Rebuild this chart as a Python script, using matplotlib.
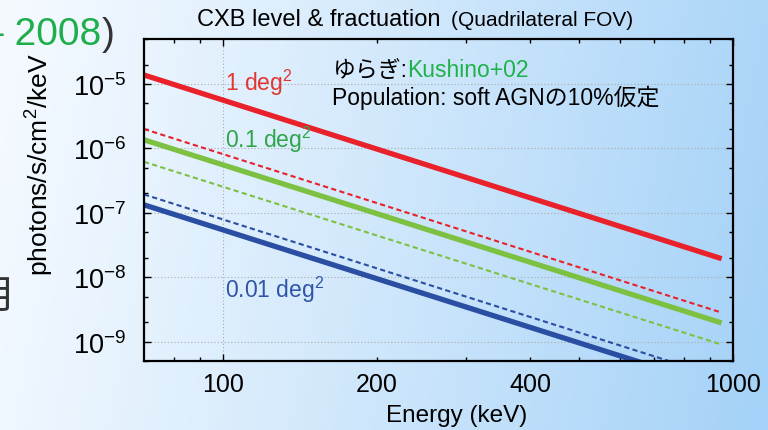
import matplotlib
matplotlib.use("Agg")
import matplotlib.pyplot as plt
from matplotlib.ticker import FixedLocator, FuncFormatter, LogLocator, NullFormatter
import numpy as np

plt.rcParams['font.family'] = ['Liberation Sans', 'Noto Sans CJK JP', 'DejaVu Sans']
plt.rcParams['mathtext.fontset'] = 'custom'
plt.rcParams['mathtext.rm'] = 'Liberation Sans'
plt.rcParams['mathtext.it'] = 'Liberation Sans:italic'

# energy range of the curves (keV)
energy = [70, 950]

# CXB level per FOV size (photons/s/cm2/keV)
level_1 = [1.38e-5, 1.94e-8]
level_01 = [1.36e-6, 1.95e-9]
level_001 = [1.33e-7, 1.90e-10]

# fluctuation (Kushino+02, soft AGN 10%)
fluct_1 = [2.0e-6, 2.82e-9]
fluct_01 = [6.2e-7, 9.0e-10]
fluct_001 = [1.93e-7, 2.75e-10]

area_labels = ["1 deg$\\mathregular{^2}$", "0.1 deg$\\mathregular{^2}$", "0.01 deg$\\mathregular{^2}$"]
x_major = [100, 1000]
x_minor = [80, 90, 200, 300, 400, 500, 600, 700, 800, 900]
x_minor_labels = [200, 400]

red, green, blue = "#e8212a", "#7cc142", "#2a4ea2"
text_red, text_green, text_blue = "#e2362f", "#2fa64a", "#2f55a6"

fig = plt.figure(figsize=(7.68, 4.31), dpi=100)

# slide background: white to light blue
bg = fig.add_axes([0, 0, 1, 1], zorder=-10)
gx, gy = np.meshgrid(np.linspace(0, 1, 400), np.linspace(0, 1, 200))
t = np.clip(0.9 * gx + 0.1 * gy, 0, 1) ** 1.15
c0 = np.array([0.96, 0.98, 1.0])
c1 = np.array([0.64, 0.82, 0.97])
img = c0[None, None, :] * (1 - t[..., None]) + c1[None, None, :] * t[..., None]
bg.imshow(img, aspect='auto', extent=[0, 1, 0, 1], origin='upper')
bg.axis('off')

# cut-off slide text
fig.text(101 / 768, 1 - 35 / 431, "– 2008", color="#1fae4c", fontsize=28,
         ha='right', va='center')
fig.text(102 / 768, 1 - 35 / 431, ")", color="#333333", fontsize=28,
         ha='left', va='center')
fig.text(16 / 768, 1 - 298 / 431, "月", color="#333333", fontsize=28,
         ha='right', va='center', family=['Noto Sans CJK JP'])

ax = fig.add_axes([144 / 768, 1 - 362 / 431, 589 / 768, 322 / 431])
ax.set_facecolor('none')
ax.set_xscale('log')
ax.set_yscale('log')
ax.set_xlim(70, 1000)
ax.set_ylim(5e-10, 5e-5)

ax.plot(energy, level_1, color=red, lw=3.8, solid_capstyle='butt')
ax.plot(energy, level_01, color=green, lw=3.8, solid_capstyle='butt')
ax.plot(energy, level_001, color=blue, lw=3.8, solid_capstyle='butt')
ax.plot(energy, fluct_1, color=red, lw=1.5, dashes=(2.5, 1.6))
ax.plot(energy, fluct_01, color=green, lw=1.5, dashes=(2.5, 1.6))
ax.plot(energy, fluct_001, color=blue, lw=1.5, dashes=(2.5, 1.6))

ax.text(0.1375, 0.866, area_labels[0], color=text_red, fontsize=16.5,
        transform=ax.transAxes, ha='left', va='center')
ax.text(0.1375, 0.689, area_labels[1], color=text_green, fontsize=16.5,
        transform=ax.transAxes, ha='left', va='center')
ax.text(0.1375, 0.224, area_labels[2], color=text_blue, fontsize=16.5,
        transform=ax.transAxes, ha='left', va='center')

note = ax.text(0.320, 0.906, "ゆらぎ:", color="black", fontsize=16.5,
               transform=ax.transAxes, ha='left', va='center')
ax.annotate("Kushino+02", xy=(1, 0.5), xycoords=note, color="#1fb24b",
            fontsize=16.5, ha='left', va='center')
ax.text(0.320, 0.819, "Population: soft AGNの10%仮定", color="black", fontsize=16.5,
        transform=ax.transAxes, ha='left', va='center')

# axes ticks and grid
ax.xaxis.set_major_locator(FixedLocator(x_major))
ax.xaxis.set_minor_locator(FixedLocator(x_minor))
ax.xaxis.set_major_formatter(FuncFormatter(lambda v, p: f"{v:g}"))
ax.xaxis.set_minor_formatter(FuncFormatter(
    lambda v, p: f"{v:g}" if round(v) in x_minor_labels else ""))
ax.yaxis.set_major_locator(LogLocator(base=10, numticks=10))
ax.yaxis.set_minor_locator(LogLocator(base=10, subs=(2, 5), numticks=10))
ax.yaxis.set_minor_formatter(NullFormatter())
ax.yaxis.set_major_formatter(FuncFormatter(
    lambda v, p: "$\\mathregular{10^{%d}}$" % round(np.log10(v))))

ax.tick_params(which='both', direction='in', top=True, right=True, width=1, colors='black')
ax.tick_params(which='major', length=5, labelsize=18, pad=8)
ax.tick_params(which='minor', length=3, labelsize=18, pad=8)
ax.tick_params(axis='y', which='major', labelsize=19.5, pad=13)
ax.grid(True, which='major', color='#aaaaaa', lw=0.8, ls=(0, (1, 2)))
for s in ax.spines.values():
    s.set_linewidth(1.6)

fig.text(40 / 768, 1 - 165 / 431, "photons/s/cm$\\mathregular{^2}$/keV", fontsize=19,
         rotation=90, ha='center', va='center')
fig.text(457 / 768, 1 - 416 / 431, "Energy (keV)", fontsize=17.5,
         ha='center', va='center')

fig.text(197 / 768, 1 - 20 / 431, "CXB level & fractuation", fontsize=17,
         ha='left', va='center')
fig.text(451 / 768, 1 - 21 / 431, "(Quadrilateral FOV)", fontsize=15,
         ha='left', va='center')

fig.savefig("out.png", dpi=100)
